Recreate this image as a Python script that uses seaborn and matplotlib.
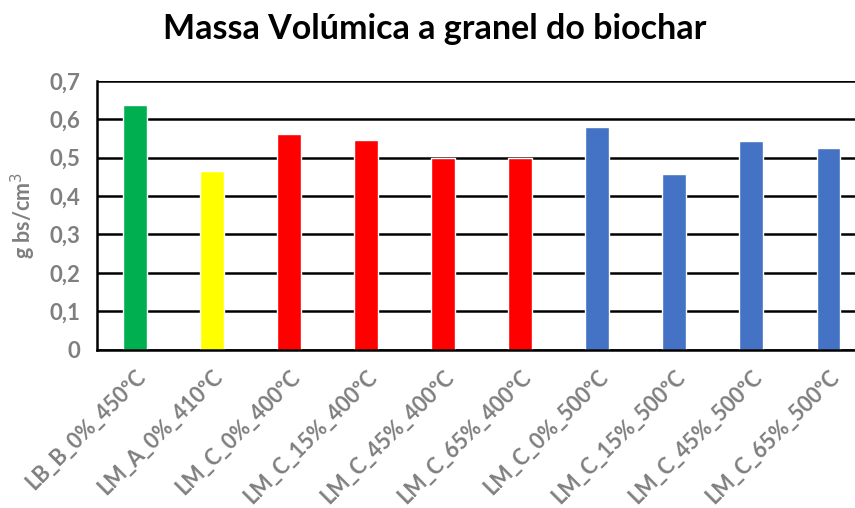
import matplotlib
matplotlib.use("Agg")
import matplotlib.pyplot as plt
import seaborn as sns
import pandas as pd

# Data
samples = ["LB_B_0%_450ºC", "LM_A_0%_410ºC", "LM_C_0%_400ºC", "LM_C_15%_400ºC",
           "LM_C_45%_400ºC", "LM_C_65%_400ºC", "LM_C_0%_500ºC", "LM_C_15%_500ºC",
           "LM_C_45%_500ºC", "LM_C_65%_500ºC"]
density = [0.636, 0.466, 0.562, 0.545, 0.499, 0.499, 0.579, 0.458, 0.542, 0.525]
bar_colors = ["#00B050", "#FFFF00", "#FF0000", "#FF0000", "#FF0000", "#FF0000",
              "#4472C4", "#4472C4", "#4472C4", "#4472C4"]
y_ticks = [0, 0.1, 0.2, 0.3, 0.4, 0.5, 0.6, 0.7]
y_tick_labels = ["0", "0,1", "0,2", "0,3", "0,4", "0,5", "0,6", "0,7"]

sns.set_style("white")
plt.rcParams["font.family"] = ["Lato", "DejaVu Sans"]

df = pd.DataFrame({"sample": samples, "density": density})

fig = plt.figure(figsize=(8.55, 5.08), dpi=100)
ax = fig.add_axes([0.113, 0.312, 0.901, 0.529])

sns.barplot(data=df, x="sample", y="density", hue="sample", palette=bar_colors,
            width=0.31, legend=False, ax=ax, saturation=1)

ax.set_ylim(0, 0.7)
ax.set_xlim(-0.5, len(samples) - 0.5)
ax.set_yticks(y_ticks)
ax.set_yticklabels(y_tick_labels)
ax.yaxis.grid(True, color="black", linewidth=1.8)
ax.set_axisbelow(True)

for side in ["top", "right"]:
    ax.spines[side].set_visible(False)
for side in ["left", "bottom"]:
    ax.spines[side].set_color("black")
    ax.spines[side].set_linewidth(1.8)

gray = "#7F7F7F"
ax.tick_params(axis="y", length=0, pad=12, labelsize=16, labelcolor=gray)
ax.tick_params(axis="x", length=0, pad=12, labelsize=15.5, labelcolor=gray)
for lbl in ax.get_yticklabels():
    lbl.set_fontweight("bold")
for lbl in ax.get_xticklabels():
    lbl.set_rotation(45)
    lbl.set_ha("right")
    lbl.set_rotation_mode("anchor")
    lbl.set_fontweight("bold")

ax.set_xlabel("")
ax.set_ylabel("g bs/cm$^3$", color=gray, fontsize=15.5, fontweight="bold", labelpad=8)

fig.suptitle("Massa Volúmica a granel do biochar", x=0.508, y=0.975,
             fontsize=24.5, fontweight="bold", color="black")

fig.savefig("out.png", dpi=100)
